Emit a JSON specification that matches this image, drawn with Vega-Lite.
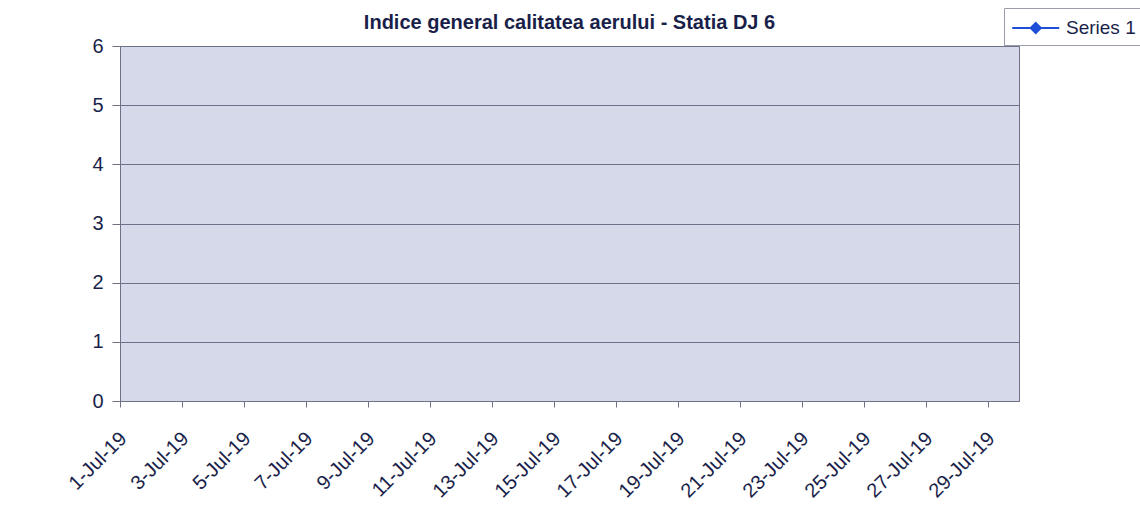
{
  "$schema": "https://vega.github.io/schema/vega-lite/v6.json",
  "autosize": {"type": "none"},
  "width": 899,
  "height": 355,
  "padding": {"left": 120, "top": 46, "right": 121, "bottom": 122},
  "background": "white",
  "title": {
    "text": "Indice general calitatea aerului - Statia DJ 6",
    "font": "Liberation Sans",
    "fontSize": 20,
    "fontWeight": "bold",
    "color": "#1a1f4a",
    "anchor": "middle",
    "offset": 9,
    "dy": 34
  },
  "config": {
    "view": {"fill": "#d5d9ea", "stroke": "#6f7284", "strokeWidth": 1},
    "axis": {"labelFont": "Liberation Sans", "labelColor": "#1a1f4a", "domainColor": "#6f7284", "tickColor": "#6f7284"}
  },
  "data": {
    "values": [
      {"date": "2019-07-01T00:00:00", "value": null, "series": "Series 1"},
      {"date": "2019-07-02T00:00:00", "value": null, "series": "Series 1"},
      {"date": "2019-07-03T00:00:00", "value": null, "series": "Series 1"},
      {"date": "2019-07-04T00:00:00", "value": null, "series": "Series 1"},
      {"date": "2019-07-05T00:00:00", "value": null, "series": "Series 1"},
      {"date": "2019-07-06T00:00:00", "value": null, "series": "Series 1"},
      {"date": "2019-07-07T00:00:00", "value": null, "series": "Series 1"},
      {"date": "2019-07-08T00:00:00", "value": null, "series": "Series 1"},
      {"date": "2019-07-09T00:00:00", "value": null, "series": "Series 1"},
      {"date": "2019-07-10T00:00:00", "value": null, "series": "Series 1"},
      {"date": "2019-07-11T00:00:00", "value": null, "series": "Series 1"},
      {"date": "2019-07-12T00:00:00", "value": null, "series": "Series 1"},
      {"date": "2019-07-13T00:00:00", "value": null, "series": "Series 1"},
      {"date": "2019-07-14T00:00:00", "value": null, "series": "Series 1"},
      {"date": "2019-07-15T00:00:00", "value": null, "series": "Series 1"},
      {"date": "2019-07-16T00:00:00", "value": null, "series": "Series 1"},
      {"date": "2019-07-17T00:00:00", "value": null, "series": "Series 1"},
      {"date": "2019-07-18T00:00:00", "value": null, "series": "Series 1"},
      {"date": "2019-07-19T00:00:00", "value": null, "series": "Series 1"},
      {"date": "2019-07-20T00:00:00", "value": null, "series": "Series 1"},
      {"date": "2019-07-21T00:00:00", "value": null, "series": "Series 1"},
      {"date": "2019-07-22T00:00:00", "value": null, "series": "Series 1"},
      {"date": "2019-07-23T00:00:00", "value": null, "series": "Series 1"},
      {"date": "2019-07-24T00:00:00", "value": null, "series": "Series 1"},
      {"date": "2019-07-25T00:00:00", "value": null, "series": "Series 1"},
      {"date": "2019-07-26T00:00:00", "value": null, "series": "Series 1"},
      {"date": "2019-07-27T00:00:00", "value": null, "series": "Series 1"},
      {"date": "2019-07-28T00:00:00", "value": null, "series": "Series 1"},
      {"date": "2019-07-29T00:00:00", "value": null, "series": "Series 1"},
      {"date": "2019-07-30T00:00:00", "value": null, "series": "Series 1"}
    ]
  },
  "encoding": {
    "x": {
      "field": "date",
      "type": "temporal",
      "title": null,
      "scale": {"domain": [{"year": 2019, "month": 7, "date": 1}, {"year": 2019, "month": 7, "date": 30}]},
      "axis": {
        "values": [
          {"year": 2019, "month": 7, "date": 1}, {"year": 2019, "month": 7, "date": 3},
          {"year": 2019, "month": 7, "date": 5}, {"year": 2019, "month": 7, "date": 7},
          {"year": 2019, "month": 7, "date": 9}, {"year": 2019, "month": 7, "date": 11},
          {"year": 2019, "month": 7, "date": 13}, {"year": 2019, "month": 7, "date": 15},
          {"year": 2019, "month": 7, "date": 17}, {"year": 2019, "month": 7, "date": 19},
          {"year": 2019, "month": 7, "date": 21}, {"year": 2019, "month": 7, "date": 23},
          {"year": 2019, "month": 7, "date": 25}, {"year": 2019, "month": 7, "date": 27},
          {"year": 2019, "month": 7, "date": 29}
        ],
        "format": "%-d-%b-%y",
        "labelAngle": -45,
        "labelAlign": "right",
        "labelBaseline": "top",
        "labelFontSize": 20,
        "labelPadding": 21,
        "labelOffset": -4,
        "tickSize": 6,
        "grid": false,
        "labelOverlap": false,
        "labelBound": false,
        "labelFlush": false
      }
    },
    "y": {
      "field": "value",
      "type": "quantitative",
      "title": null,
      "scale": {"domain": [0, 6], "nice": false},
      "axis": {
        "values": [0, 1, 2, 3, 4, 5, 6],
        "format": "d",
        "labelFontSize": 20,
        "tickSize": 8,
        "labelPadding": 9,
        "grid": true,
        "gridColor": "#6d7089",
        "gridWidth": 1,
        "labelFlush": false
      }
    },
    "color": {
      "field": "series",
      "type": "nominal",
      "scale": {"domain": ["Series 1"], "range": ["#1f4fd8"]},
      "legend": {
        "title": null,
        "orient": "none",
        "legendX": 884,
        "legendY": -38,
        "labelFont": "Liberation Sans",
        "labelFontSize": 19,
        "labelColor": "#1a1f4a",
        "symbolType": "M-1,0H3M1,-0.43L1.43,0L1,0.43L0.57,0Z",
        "symbolSize": 552,
        "symbolStrokeWidth": 2,
        "symbolOpacity": 1,
        "symbolFillColor": "#1f4fd8",
        "symbolStrokeColor": "#1f4fd8",
        "strokeColor": "#9a9cab",
        "padding": 7,
        "labelOffset": 29
      }
    }
  },
  "layer": [
    {"mark": {"type": "line", "strokeWidth": 1.5}},
    {"mark": {"type": "point", "shape": "diamond", "filled": true, "size": 40, "opacity": 1}}
  ]
}
